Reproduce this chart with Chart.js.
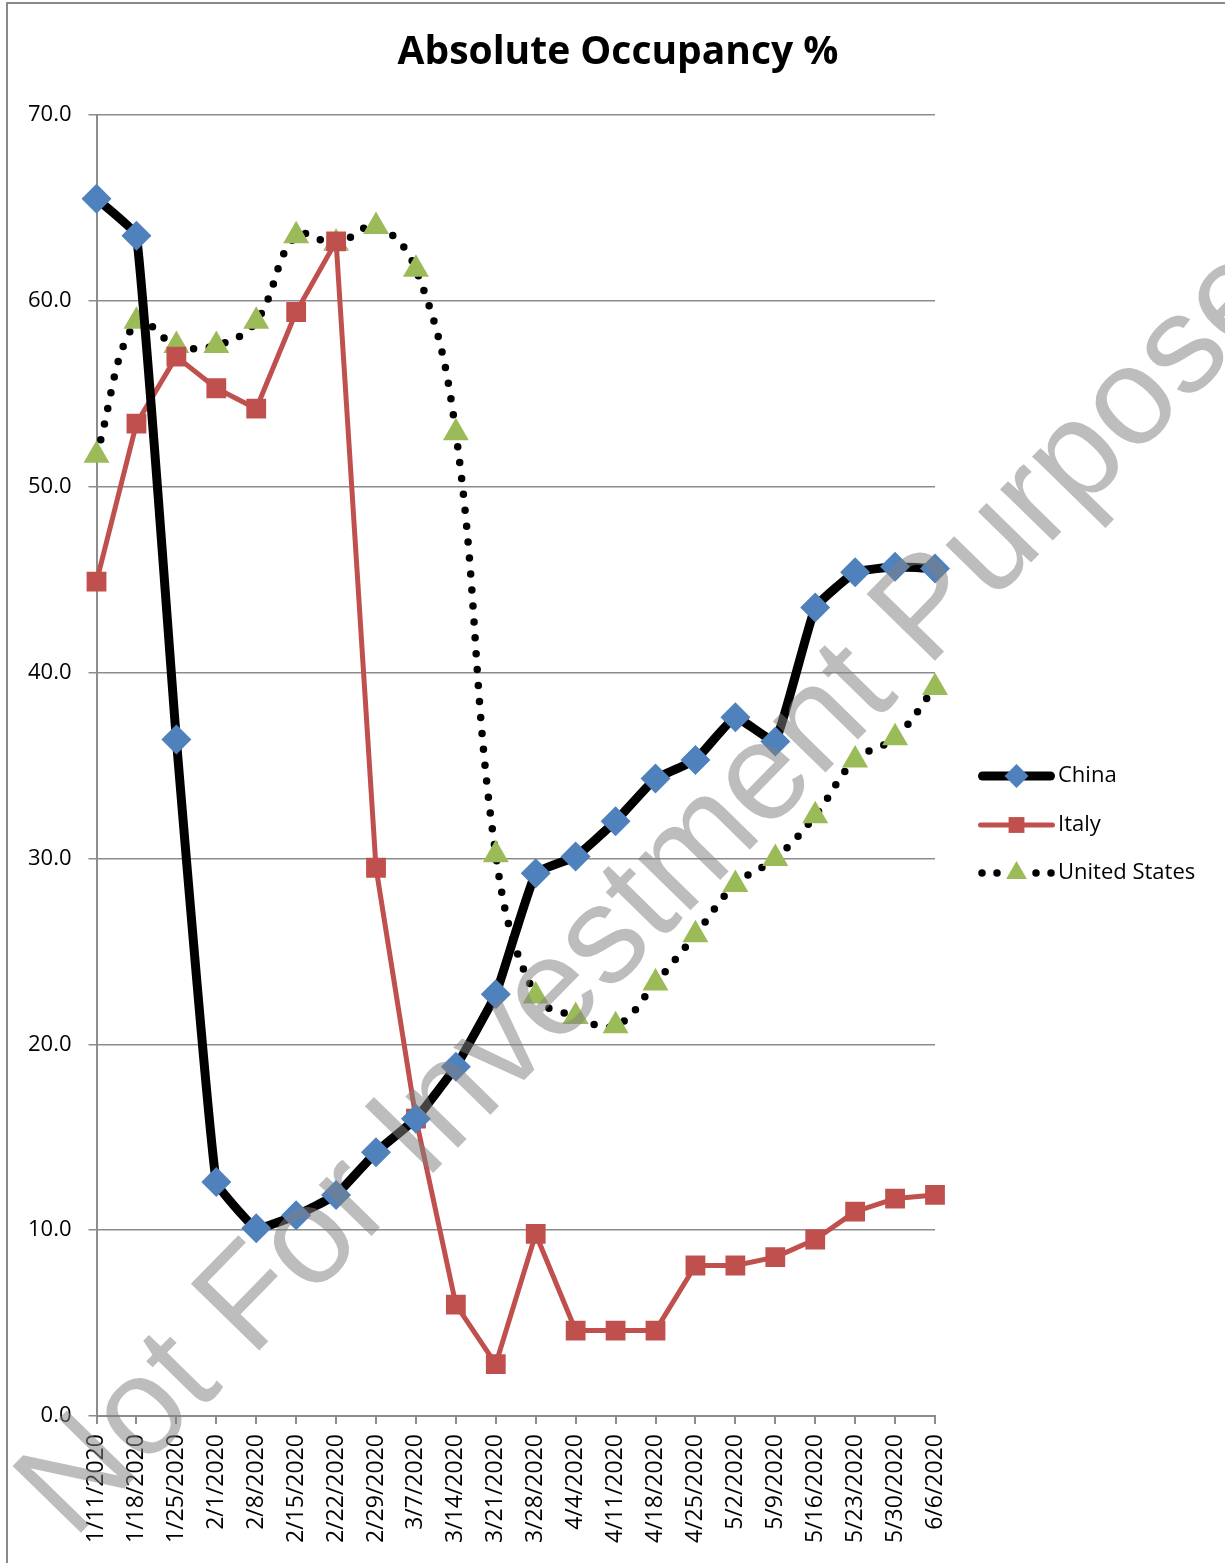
<!DOCTYPE html>
<html>
<head>
<meta charset="utf-8">
<title>Absolute Occupancy %</title>
<script src="https://cdn.jsdelivr.net/npm/chart.js@4/dist/chart.umd.min.js"></script>
<style>
  html, body { margin: 0; padding: 0; background: #fff; }
  #wrap { width: 1225px; height: 1563px; }
</style>
</head>
<body>
<div id="wrap"><canvas id="chart1"></canvas></div>
<script>
// week ending dates
const weeks = ['1/11/2020', '1/18/2020', '1/25/2020', '2/1/2020', '2/8/2020', '2/15/2020', '2/22/2020',
  '2/29/2020', '3/7/2020', '3/14/2020', '3/21/2020', '3/28/2020', '4/4/2020', '4/11/2020', '4/18/2020',
  '4/25/2020', '5/2/2020', '5/9/2020', '5/16/2020', '5/23/2020', '5/30/2020', '6/6/2020'];

// occupancy % by country
const china = [65.5, 63.5, 36.4, 12.6, 10.1, 10.8, 11.9, 14.2, 16.0, 18.8, 22.7, 29.2, 30.1, 32.0, 34.3, 35.3, 37.6, 36.3, 43.5, 45.4, 45.7, 45.6];
const italy = [44.9, 53.4, 57.0, 55.3, 54.2, 59.4, 63.2, 29.5, 16.0, 6.0, 2.8, 9.8, 4.6, 4.6, 4.6, 8.1, 8.1, 8.55, 9.5, 11.0, 11.7, 11.9];
const unitedStates = [51.7, 58.9, 57.6, 57.6, 58.9, 63.5, 63.1, 64.0, 61.7, 52.9, 30.2, 22.6, 21.5, 21.0, 23.3, 25.9, 28.6, 30.0, 32.3, 35.3, 36.5, 39.2];

const yTicks = [0, 10, 20, 30, 40, 50, 60, 70];
const chartTitle = 'Absolute Occupancy %';
const watermarkText = 'Not For Investment Purposes';

const FONT = "'Open Sans', 'Liberation Sans', sans-serif";
const GRID = '#8c8c8c';

// frame around the chart and the title (title centred on the whole chart box)
const framePlugin = {
  id: 'frame',
  beforeDraw(chart) {
    const ctx = chart.ctx;
    ctx.save();
    ctx.fillStyle = '#fff';
    ctx.fillRect(0, 0, chart.width, chart.height);
    ctx.strokeStyle = '#8a8a8a';
    ctx.lineWidth = 2;
    ctx.beginPath();
    ctx.moveTo(7, chart.height);
    ctx.lineTo(7, 3);
    ctx.lineTo(chart.width, 3);
    ctx.stroke();
    ctx.fillStyle = '#000';
    ctx.font = 'bold 39px ' + FONT;
    ctx.textAlign = 'center';
    ctx.textBaseline = 'middle';
    ctx.fillText(chartTitle, 618, 53);
    ctx.restore();
  }
};

// legend with line sample + marker, drawn to the right of the plot
const legendPlugin = {
  id: 'sideLegend',
  afterDatasetsDraw(chart) {
    const ctx = chart.ctx;
    const x0 = chart.chartArea.right + 43;
    const x1 = x0 + 77;
    const rows = [776, 825, 873];
    ctx.save();
    chart.data.datasets.forEach((ds, i) => {
      const y = rows[i];
      ctx.save();
      ctx.strokeStyle = ds.borderColor;
      ctx.lineWidth = ds.borderWidth;
      ctx.lineCap = 'round';
      ctx.beginPath();
      if (ds.borderDash) {
        [4, 19, 58, 73].forEach(dx => {
          ctx.moveTo(x0 + dx, y);
          ctx.arc(x0 + dx, y, ds.borderWidth / 2, 0, Math.PI * 2);
        });
        ctx.fillStyle = ds.borderColor;
        ctx.fill();
      } else {
        ctx.moveTo(x0 + ds.borderWidth / 2, y);
        ctx.lineTo(x1 - ds.borderWidth / 2, y);
        ctx.stroke();
      }
      ctx.restore();
      ctx.fillStyle = ds.pointBackgroundColor;
      Chart.helpers.drawPoint(ctx, {
        pointStyle: ds.pointStyle,
        radius: ds.pointRadius * 0.8,
        rotation: 0,
        borderWidth: 0
      }, (x0 + x1) / 2, y);
      ctx.fillStyle = '#000';
      ctx.font = '22px ' + FONT;
      ctx.textBaseline = 'middle';
      ctx.fillText(ds.label, x1 + 3, y);
    });
    ctx.restore();
  }
};

// diagonal watermark across the whole picture
const watermarkPlugin = {
  id: 'watermark',
  afterDraw(chart) {
    const ctx = chart.ctx;
    ctx.save();
    ctx.translate(73, 1541);
    ctx.rotate(-45.6 * Math.PI / 180);
    ctx.font = "139px 'Liberation Sans', Arial, sans-serif";
    ctx.fillStyle = 'rgba(128, 128, 128, 0.52)';
    ctx.textBaseline = 'alphabetic';
    ctx.fillText(watermarkText, 0, 0);
    ctx.restore();
  }
};

const ctx1 = document.getElementById('chart1').getContext('2d');
window.myLineChart = new Chart(ctx1, {
  type: 'line',
  data: {
    labels: weeks,
    datasets: [
      {
        label: 'China',
        data: china,
        borderColor: '#000000',
        borderWidth: 9,
        tension: 0.1,
        pointStyle: 'rectRot',
        pointRadius: 15,
        pointBackgroundColor: '#4F81BD',
        pointBorderWidth: 0,
        borderJoinStyle: 'round'
      },
      {
        label: 'Italy',
        data: italy,
        borderColor: '#C0504D',
        borderWidth: 5,
        tension: 0,
        pointStyle: 'rect',
        pointRadius: 14,
        pointBackgroundColor: '#C0504D',
        pointBorderWidth: 0,
        borderJoinStyle: 'round'
      },
      {
        label: 'United States',
        data: unitedStates,
        borderColor: '#000000',
        borderWidth: 7.5,
        borderDash: [0, 16],
        borderCapStyle: 'round',
        tension: 0.4,
        pointStyle: 'triangle',
        pointRadius: 15,
        pointBackgroundColor: '#9BBB59',
        pointBorderWidth: 0
      }
    ]
  },
  options: {
    responsive: true,
    maintainAspectRatio: false,
    animation: false,
    layout: { padding: { left: 11, right: 290, top: 115, bottom: 10 } },
    plugins: {
      legend: { display: false },
      tooltip: { enabled: false },
      title: { display: false }
    },
    scales: {
      x: {
        offset: false,
        grid: { drawOnChartArea: false, drawTicks: true, tickLength: 8, color: GRID, lineWidth: 2 },
        border: { color: GRID, width: 2 },
        ticks: {
          autoSkip: false, minRotation: 90, maxRotation: 90,
          color: '#000', padding: 10,
          font: { family: FONT, size: 23 }
        }
      },
      y: {
        min: 0,
        max: 70,
        afterBuildTicks(axis) { axis.ticks = yTicks.map(v => ({ value: v })); },
        grid: { color: GRID, lineWidth: 1.5, tickLength: 8 },
        border: { color: GRID, width: 2 },
        ticks: {
          color: '#000', padding: 17,
          font: { family: FONT, size: 22 },
          callback: v => Number(v).toFixed(1)
        }
      }
    }
  },
  plugins: [framePlugin, legendPlugin, watermarkPlugin]
});
</script>
</body>
</html>
